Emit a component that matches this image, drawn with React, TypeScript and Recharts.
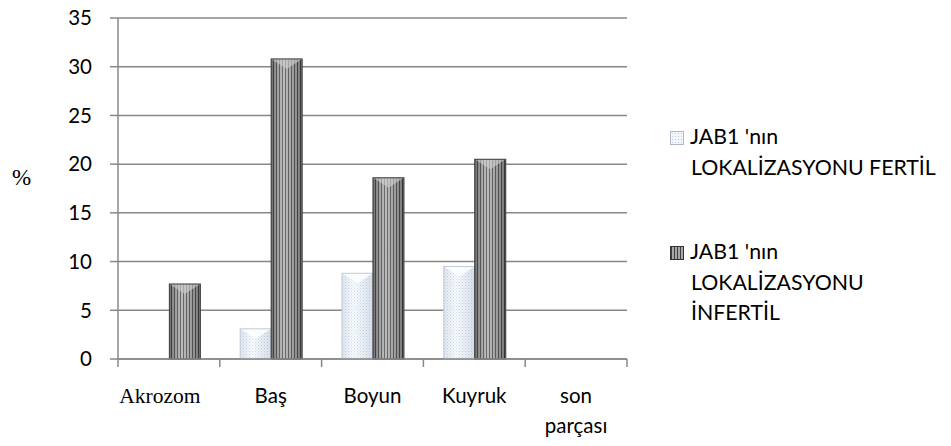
import { BarChart, Bar, XAxis, YAxis, CartesianGrid } from "recharts";

const categories = ["Akrozom", "Baş", "Boyun", "Kuyruk", "son parçası"];
const fertil = [0, 3.1, 8.8, 9.5, 0];
const infertil = [7.7, 30.8, 18.6, 20.5, 0];
const yTicks = [0, 5, 10, 15, 20, 25, 30, 35];
const legendFertil = ["JAB1 'nın", "LOKALİZASYONU FERTİL"];
const legendInfertil = ["JAB1 'nın", "LOKALİZASYONU", "İNFERTİL"];

const data = categories.map((name, i) => ({ name, fertil: fertil[i], infertil: infertil[i] }));

const W = 951;
const H = 446;
const PLOT_LEFT = 118;
const PLOT_RIGHT = 627;
const BAND = (PLOT_RIGHT - PLOT_LEFT) / categories.length;
const SANS = "Lato, 'Open Sans', sans-serif";
const SERIF = "'Liberation Serif', 'DejaVu Serif', serif";
const AXIS = "#888888";
// first label (serif) sits a bit left of its band centre in the original
const LABEL_SHIFT = [-9, 0, 0, 0, 0];

function XTick(props: any) {
  const { x, y, payload, index } = props;
  const lines = String(payload.value).split(" ");
  const left = x - BAND / 2;
  const last = index === categories.length - 1;
  const tx = x + LABEL_SHIFT[index];
  return (
    <g>
      <line x1={left} x2={left} y1={y} y2={y + 8} stroke={AXIS} strokeWidth={1.5} />
      {last && <line x1={left + BAND} x2={left + BAND} y1={y} y2={y + 8} stroke={AXIS} strokeWidth={1.5} />}
      <text
        x={tx}
        y={y + 44}
        textAnchor="middle"
        fontFamily={index === 0 ? SERIF : SANS}
        fontSize={index === 0 ? 21.5 : 20.5}
        fill="#000"
      >
        {lines.map((l, i) => (
          <tspan key={i} x={tx} dy={i === 0 ? 0 : 30}>
            {l}
          </tspan>
        ))}
      </text>
    </g>
  );
}

function FertilBar(props: any) {
  const { x, y, width, height } = props;
  if (!height || height <= 0) return null;
  const cap = Math.min(10, height / 2);
  return (
    <g>
      <rect x={x} y={y} width={width} height={height} fill="url(#dotsBlue)" />
      <rect x={x} y={y} width={width} height={height} fill="url(#fertilShade)" />
      <path
        d={`M${x},${y} L${x + width},${y} L${x + width / 2},${y + cap} Z`}
        fill="#ffffff"
        opacity={0.8}
      />
      <rect x={x} y={y} width={width} height={height} fill="none" stroke="#c3ccd6" strokeWidth={1} />
    </g>
  );
}

function InfertilBar(props: any) {
  const { x, y, width, height } = props;
  if (!height || height <= 0) return null;
  const cap = Math.min(10, height / 2);
  return (
    <g>
      <rect x={x} y={y} width={width} height={height} fill="url(#stripesGray)" />
      <rect x={x} y={y} width={width} height={height} fill="url(#infertilShade)" />
      <path
        d={`M${x},${y} L${x + width},${y} L${x + width / 2},${y + cap} Z`}
        fill="#d0d0d0"
        opacity={0.6}
      />
      <rect x={x} y={y} width={width} height={height} fill="none" stroke="#3c3c3c" strokeWidth={1} />
    </g>
  );
}

function LegendItem({ lines, kind, top }: { lines: string[]; kind: "f" | "i"; top: number }) {
  const icon =
    kind === "f"
      ? {
          background: "radial-gradient(#b8cce4 35%, #f3f7fb 40%) 0 0 / 3px 3px",
          border: "1px solid #aeb8c4",
        }
      : {
          background: "repeating-linear-gradient(90deg, #3f3f3f 0 1px, #a8a8a8 1px 3px)",
          border: "1px solid #333",
        };
  return (
    <div
      style={{
        position: "absolute",
        left: 670,
        top,
        fontFamily: SANS,
        fontSize: 21.3,
        lineHeight: "30.5px",
        color: "#000",
        whiteSpace: "nowrap",
      }}
    >
      {lines.map((l, i) => (
        <div key={i} style={{ paddingLeft: i === 0 ? 0 : 21 }}>
          {i === 0 && (
            <span
              style={{
                display: "inline-block",
                width: 14,
                height: 14,
                marginRight: 6,
                verticalAlign: "-1px",
                boxSizing: "border-box",
                ...icon,
              }}
            />
          )}
          {l}
        </div>
      ))}
    </div>
  );
}

export default function App() {
  return (
    <div style={{ position: "absolute", left: 0, top: 0, width: W, height: H, background: "#fff" }}>
      <BarChart
        width={W}
        height={H}
        data={data}
        margin={{ top: 18, right: W - PLOT_RIGHT, bottom: 0, left: 0 }}
        barCategoryGap="20%"
        barGap={0}
      >
        <defs>
          <pattern id="dotsBlue" width="3" height="3" patternUnits="userSpaceOnUse">
            <rect width="3" height="3" fill="#f4f8fc" />
            <rect x="0" y="0" width="1" height="1" fill="#a9c0dc" />
            <rect x="1.5" y="1.5" width="1" height="1" fill="#c6d6ea" />
          </pattern>
          <pattern id="stripesGray" width="3" height="4" patternUnits="userSpaceOnUse">
            <rect width="3" height="4" fill="#a6a6a6" />
            <rect width="1" height="4" fill="#3a3a3a" />
          </pattern>
          <linearGradient id="fertilShade" x1="0" y1="0" x2="1" y2="0">
            <stop offset="0" stopColor="#c9d3de" stopOpacity={0.5} />
            <stop offset="0.4" stopColor="#ffffff" stopOpacity={0.45} />
            <stop offset="1" stopColor="#b8c4d2" stopOpacity={0.45} />
          </linearGradient>
          <linearGradient id="infertilShade" x1="0" y1="0" x2="1" y2="0">
            <stop offset="0" stopColor="#202020" stopOpacity={0.45} />
            <stop offset="0.4" stopColor="#ffffff" stopOpacity={0.25} />
            <stop offset="1" stopColor="#202020" stopOpacity={0.4} />
          </linearGradient>
        </defs>
        <CartesianGrid vertical={false} stroke={AXIS} strokeWidth={1.5} />
        <XAxis
          dataKey="name"
          interval={0}
          height={87}
          tickSize={0}
          tickMargin={0}
          tickLine={false}
          axisLine={{ stroke: AXIS, strokeWidth: 1.5 }}
          tick={<XTick />}
        />
        <YAxis
          width={PLOT_LEFT}
          domain={[0, 35]}
          ticks={yTicks}
          interval={0}
          tickSize={8}
          tickMargin={18}
          axisLine={{ stroke: AXIS, strokeWidth: 1.5 }}
          tickLine={{ stroke: AXIS, strokeWidth: 1.5 }}
          tick={{ fontFamily: SANS, fontSize: 20.5, fill: "#000" }}
          label={{
            value: "%",
            position: "insideLeft",
            offset: 12,
            dy: -12,
            style: { fontFamily: SERIF, fontSize: 23, fill: "#000" },
          }}
        />
        <Bar dataKey="fertil" shape={<FertilBar />} isAnimationActive={false} />
        <Bar dataKey="infertil" shape={<InfertilBar />} isAnimationActive={false} />
      </BarChart>
      <LegendItem lines={legendFertil} kind="f" top={121} />
      <LegendItem lines={legendInfertil} kind="i" top={236} />
    </div>
  );
}
